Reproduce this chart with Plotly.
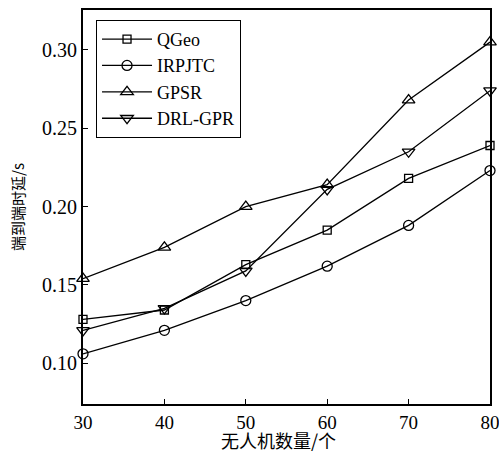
import plotly.graph_objects as go

x_nodes = [30, 40, 50, 60, 70, 80]
qgeo = [0.128, 0.134, 0.163, 0.185, 0.218, 0.239]
irpjtc = [0.106, 0.121, 0.140, 0.162, 0.188, 0.223]
gpsr = [0.154, 0.174, 0.200, 0.214, 0.268, 0.305]
drl_gpr = [0.121, 0.135, 0.159, 0.211, 0.235, 0.274]
x_title = "无人机数量/个"
y_title = "端到端时延/s"

series = [
    ("QGeo", qgeo, "square-open", 8),
    ("IRPJTC", irpjtc, "circle-open", 10),
    ("GPSR", gpsr, "triangle-up-open", 11),
    ("DRL-GPR", drl_gpr, "triangle-down-open", 11),
]

fig = go.Figure()
for name, vals, sym, sz in series:
    fig.add_trace(go.Scatter(
        x=x_nodes, y=vals, name=name, mode="lines+markers",
        line=dict(color="black", width=1.3),
        marker=dict(symbol=sym, size=sz, color="black", line=dict(width=1.3, color="black")),
        cliponaxis=False,
    ))

serif = "Liberation Serif"
fig.update_layout(
    width=499, height=452,
    margin=dict(l=83, r=9, t=10, b=48),
    paper_bgcolor="white", plot_bgcolor="white",
    font=dict(family=serif, size=20, color="black"),
    showlegend=True,
    legend=dict(
        x=0.032, y=0.975, xanchor="left", yanchor="top",
        bordercolor="black", borderwidth=1, bgcolor="white",
        font=dict(family=serif, size=18, color="black"),
        itemwidth=50, tracegroupgap=0,
    ),
    xaxis=dict(
        range=[30, 80], tickvals=x_nodes, ticks="inside", ticklen=5, tickwidth=1,
        tickcolor="black", showline=True, linecolor="black", linewidth=2, mirror=True,
        showgrid=False, zeroline=False, automargin=False, ticklabeloverflow="allow",
        tickfont=dict(family=serif, size=19),
    ),
    yaxis=dict(
        range=[0.074, 0.3255], tick0=0.1, dtick=0.05, tickformat=".2f",
        ticks="inside", ticklen=5, tickwidth=1, tickcolor="black",
        showline=True, linecolor="black", linewidth=2, mirror=True,
        showgrid=False, zeroline=False, automargin=False, ticklabeloverflow="allow",
        tickfont=dict(family=serif, size=20),
        title=dict(text=y_title, font=dict(family="Noto Sans CJK SC", size=15, color="black"), standoff=14),
    ),
    annotations=[dict(
        text=x_title, xref="paper", yref="paper", x=0.48, y=-0.092,
        xanchor="center", yanchor="middle", showarrow=False,
        font=dict(family="Noto Sans CJK SC", size=18, color="black"),
    )],
)
fig.write_html("out.html", config={"displayModeBar": False},
               post_script="document.body.style.margin='0';")
